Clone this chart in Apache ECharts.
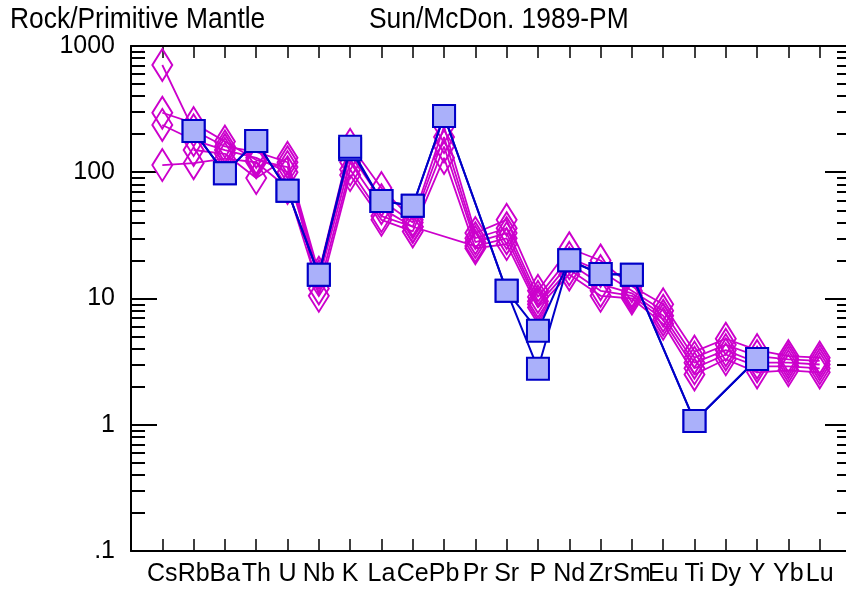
<!DOCTYPE html>
<html>
<head>
<meta charset="utf-8">
<script src="https://cdn.jsdelivr.net/npm/echarts@6/dist/echarts.min.js"></script>
<style>
  html, body { margin: 0; padding: 0; background: #fff; }
  #main { width: 846px; height: 592px; }
</style>
</head>
<body>
<div id="main"></div>
<script>
// elements along the x axis
var elements = ['Cs','Rb','Ba','Th','U','Nb','K','La','Ce','Pb','Pr','Sr','P','Nd','Zr','Sm','Eu','Ti','Dy','Y','Yb','Lu'];
var yTickLabels = ['.1', '1', '10', '100', '1000'];

// magenta samples (diamonds)
var rock1 = [707, 215, 160, 145, 120, 16, 165, 75, 42, 230, 33, 42, 11.5, 25, 20, 12.5, 9, 3.8, 4.8, 3.9, 3.5, 3.4];
var rock2 = [296, 245, 175, 125, 110, 15, 140, 60, 40, 190, 30, 36, 10.3, 21, 16.5, 11.5, 8, 3.4, 4.3, 3.5, 3.3, 3.2];
var rock3 = [237, 180, 150, 130, 100, 14, 120, 52, 37, 160, 28, 33, 9.5, 19, 13, 11, 7.3, 3.1, 3.9, 3.1, 3.1, 3.0];
var rock4 = [114, 118, 128, 120, 75, 12, 105, 45, 37, null, 26, 30, 9.0, 17, 11.5, 10.5, 6.8, 2.8, 3.6, 2.9, 2.9, 2.8];
var rock5 = [null, 150, 140, 90, 130, 10.5, 95, 42, 34, 130, 25, 27, 8.5, 15.5, 10.5, 10, 6.3, 2.5, 3.3, 2.6, 2.7, 2.6];

// blue samples (squares)
var blue1 = [null, 212, 98, 177, 71.4, 15.4, 152, 59.2, 54.3, 279, null, 11.5, 5.56, 20.1, 15.6, 15.4, null, 1.07, null, 3.32, null, null];
var blue2 = [null, 212, 98, 177, 71.4, 15.4, 159, 59.2, 54.3, 279, null, 11.5, 2.78, 20.1, 15.6, 15.4, null, 1.07, null, 3.32, null, null];

var minorTicks = [];
[0.1, 1, 10, 100].forEach(function (d) {
  for (var k = 2; k <= 9; k++) minorTicks.push(d * k);
});

function pts(vals) {
  return vals.map(function (v, i) { return v == null ? null : [i, v]; })
             .filter(function (p) { return p; });
}

var black = '#000';
var magenta = '#cc00cc';
var blueLine = '#0000c8';
var font = "'Liberation Sans', Arial, sans-serif";

function rockSeries(vals) {
  return {
    type: 'line',
    data: pts(vals),
    xAxisIndex: 0, yAxisIndex: 0,
    symbol: 'diamond',
    symbolSize: [20, 32],
    lineStyle: { color: magenta, width: 1.8 },
    itemStyle: { color: 'rgba(0,0,0,0)', borderColor: magenta, borderWidth: 2 },
    emphasis: { disabled: true },
    animation: false,
    z: 2
  };
}
function blueSeries(vals) {
  return {
    type: 'line',
    data: pts(vals),
    xAxisIndex: 0, yAxisIndex: 0,
    symbol: 'rect',
    symbolSize: 22,
    lineStyle: { color: blueLine, width: 2 },
    itemStyle: { color: '#aab0fa', borderColor: blueLine, borderWidth: 2 },
    emphasis: { disabled: true },
    animation: false,
    z: 3
  };
}

var xBase = {
  type: 'value', min: -1, max: 22, interval: 1,
  axisLine: { onZero: false, lineStyle: { color: black, width: 2 } },
  axisTick: { inside: true, length: 12, lineStyle: { color: black, width: 1.5 } },
  splitLine: { show: false }
};
var yBase = {
  type: 'log', logBase: 10, min: 0.1, max: 1000,
  splitLine: { show: false },
  axisLine: { show: true, onZero: false, lineStyle: { color: black, width: 2 } }
};

var option = {
  animation: false,
  backgroundColor: '#fff',
  grid: { left: 131, top: 46, width: 720, height: 505, containLabel: false, outerBoundsMode: 'none' },
  xAxis: [
    Object.assign({}, xBase, {
      position: 'bottom',
      axisLabel: {
        color: black, fontSize: 25, fontFamily: font, margin: 11,
        formatter: function (v) { return elements[v] || ''; }
      }
    }),
    Object.assign({}, xBase, {
      position: 'top',
      axisLabel: { show: false }
    })
  ],
  yAxis: [
    Object.assign({}, yBase, {
      position: 'left',
      axisTick: { inside: true, length: 26, lineStyle: { color: black, width: 2 } },
      axisLabel: {
        color: black, fontSize: 25, fontFamily: font, margin: 16,
        formatter: function (v, i) { return yTickLabels[i]; }
      }
    }),
    Object.assign({}, yBase, {
      position: 'left',
      axisLine: { show: false, onZero: false },
      axisTick: { inside: true, length: 14, customValues: minorTicks, lineStyle: { color: black, width: 2 } },
      axisLabel: { show: false }
    }),
    Object.assign({}, yBase, {
      position: 'right',
      axisTick: { inside: true, length: 26, lineStyle: { color: black, width: 2 } },
      axisLabel: { show: false }
    }),
    Object.assign({}, yBase, {
      position: 'right',
      axisLine: { show: false, onZero: false },
      axisTick: { inside: true, length: 14, customValues: minorTicks, lineStyle: { color: black, width: 2 } },
      axisLabel: { show: false }
    })
  ],
  graphic: [
    { type: 'text', x: 10, y: 5, scaleX: 0.88, style: { text: 'Rock/Primitive Mantle', fill: black, font: '30px ' + font } },
    { type: 'text', x: 369, y: 5, scaleX: 0.88, style: { text: 'Sun/McDon. 1989-PM', fill: black, font: '30px ' + font } }
  ],
  series: [
    rockSeries(rock1), rockSeries(rock2), rockSeries(rock3), rockSeries(rock4), rockSeries(rock5),
    blueSeries(blue1), blueSeries(blue2)
  ]
};

var chart = echarts.init(document.getElementById('main'), null, { renderer: 'canvas' });
chart.setOption(option);
</script>
</body>
</html>
